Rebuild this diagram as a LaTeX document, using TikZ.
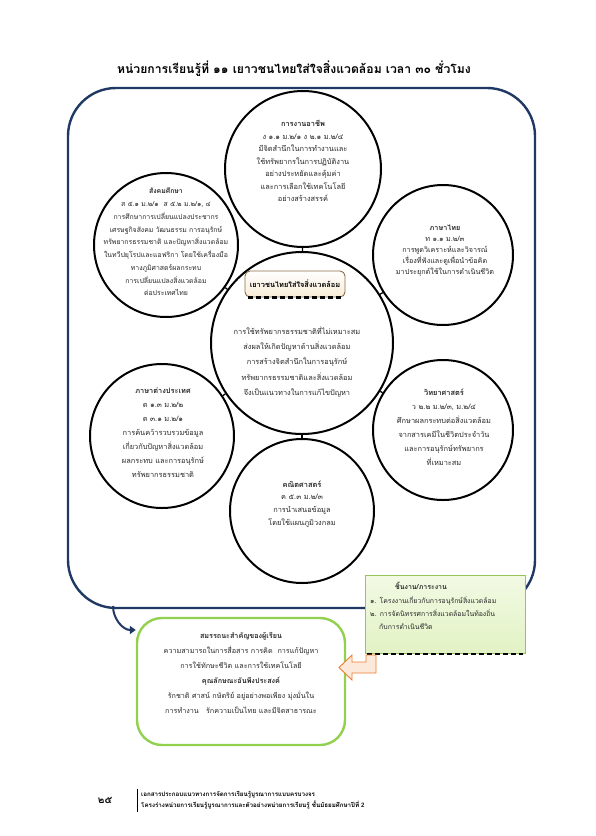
\documentclass[tikz,border=0pt]{standalone}
\usepackage{fontspec}
\newfontfamily\thai[Script=Thai]{Loma}
\usetikzlibrary{arrows.meta}
\definecolor{navy}{RGB}{31,56,100}
\definecolor{lgreen}{RGB}{146,208,80}
\definecolor{boxgreen}{RGB}{226,242,196}
\definecolor{boxgreent}{RGB}{242,250,228}
\definecolor{boxgreenb}{RGB}{150,195,90}
\definecolor{orangeb}{RGB}{237,125,49}
\definecolor{orangef}{RGB}{253,233,217}
\definecolor{beige}{RGB}{248,236,214}
\definecolor{brownb}{RGB}{140,110,70}
\definecolor{txt}{RGB}{40,40,40}
\tikzset{
  ring/.style={circle, draw=black, line width=2pt, fill=white, inner sep=0pt},
  ctext/.style={align=center, inner sep=0pt, text=txt, font=\thai\fontsize{7.4}{12.5}\selectfont},
  link/.style={draw=black, line width=1.3pt},
  para/.style={align=center, inner sep=0pt, text=txt, font=\thai\fontsize{7.4}{15.3}\selectfont},
  btext/.style={align=center, inner sep=0pt, text=txt, font=\thai\fontsize{7.2}{15}\selectfont},
}
\begin{document}
\begin{tikzpicture}[x=1pt,y=-1pt]
\useasboundingbox (0,0) rectangle (595,836);
\fill[white] (0,0) rectangle (595,836);
% title
\node[font=\thai\bfseries\fontsize{12.2}{14}\selectfont, inner sep=0] (title) at (294,69)
  {หน่วยการเรียนรู้ที่ ๑๑ เยาวชนไทยใส่ใจสิ่งแวดล้อม เวลา ๓๐ ชั่วโมง};
% frame
\draw[navy, line width=2.4pt, rounded corners=48pt] (68,88) rectangle (535,608);
% circles
\node[ring, minimum size=182pt] (center) at (302,343) {};
\node[ring, minimum size=156pt] (top) at (303,169) {};
\node[ring, minimum size=144pt] (left) at (166,245) {};
\node[ring, minimum size=140pt] (right) at (443,255) {};
\node[ring, minimum size=144pt] (lowleft) at (162,436) {};
\node[ring, minimum size=140pt] (lowright) at (443,430) {};
\node[ring, minimum size=144pt] (bottom) at (302,511) {};
\foreach \c in {top,left,right,lowleft,lowright,bottom} \draw[link] (center) -- (\c);
% circle texts
\node[ctext] (ttop) at (303,161)
  {\textbf{การงานอาชีพ}\\ง ๑.๑ ม.๒/๑ ง ๒.๑ ม.๒/๔\\มีจิตสำนึกในการทำงานและ\\ใช้ทรัพยากรในการปฏิบัติงาน\\อย่างประหยัดและคุ้มค่า\\และการเลือกใช้เทคโนโลยี\\อย่างสร้างสรรค์};
\node[ctext, font=\thai\fontsize{6.9}{12.75}\selectfont] (tleft) at (166,242)
  {\textbf{สังคมศึกษา}\\ส ๕.๑ ม.๒/๑ \ ส ๕.๒ ม.๒/๑, ๔\\การศึกษาการเปลี่ยนแปลงประชากร\\เศรษฐกิจสังคม วัฒนธรรม การอนุรักษ์\\ทรัพยากรธรรมชาติ และปัญหาสิ่งแวดล้อม\\ในทวีปยุโรปและแอฟริกา โดยใช้เครื่องมือ\\ทางภูมิศาสตร์ผลกระทบ\\การเปลี่ยนแปลงสิ่งแวดล้อม\\ต่อประเทศไทย};
\node[ctext, font=\thai\fontsize{7.2}{11}\selectfont] (tright) at (445,251)
  {\textbf{ภาษาไทย}\\ท ๑.๑ ม.๒/๓\\การพูดวิเคราะห์และวิจารณ์\\เรื่องที่ฟังและดูเพื่อนำข้อคิด\\มาประยุกต์ใช้ในการดำเนินชีวิต};
\node[ctext, font=\thai\fontsize{7.4}{14}\selectfont] (tlowleft) at (163,433)
  {\textbf{ภาษาต่างประเทศ}\\ต ๑.๓ ม.๒/๒\\ต ๓.๑ ม.๒/๑\\การค้นคว้ารวบรวมข้อมูล\\เกี่ยวกับปัญหาสิ่งแวดล้อม\\ผลกระทบ และการอนุรักษ์\\ทรัพยากรธรรมชาติ};
\node[ctext, font=\thai\fontsize{7.4}{14}\selectfont] (tlowright) at (444,427)
  {\textbf{วิทยาศาสตร์}\\ว ๒.๒ ม.๒/๓, ม.๒/๔\\ศึกษาผลกระทบต่อสิ่งแวดล้อม\\จากสารเคมีในชีวิตประจำวัน\\และการอนุรักษ์ทรัพยากร\\ที่เหมาะสม};
\node[ctext, font=\thai\fontsize{7.4}{12.7}\selectfont] (tbottom) at (302,504)
  {\textbf{คณิตศาสตร์}\\ค ๕.๓ ม.๒/๓\\การนำเสนอข้อมูล\\โดยใช้แผนภูมิวงกลม};
% center title box
\node[draw=brownb, line width=0.9pt, rounded corners=5pt, top color=white, bottom color=beige,
  minimum width=100pt, minimum height=26pt, inner sep=0pt,
  font=\thai\bfseries\fontsize{7.4}{9}\selectfont] (theme) at (295,284) {เยาวชนไทยใส่ใจสิ่งแวดล้อม};
\draw[black, line width=2.2pt, dash pattern=on 5pt off 3pt] ([xshift=3pt]theme.south west) -- ([xshift=-3pt]theme.south east);
\node[para] (cpara) at (297,362)
  {การใช้ทรัพยากรธรรมชาติที่ไม่เหมาะสม\\ส่งผลให้เกิดปัญหาด้านสิ่งแวดล้อม\\การสร้างจิตสำนึกในการอนุรักษ์\\ทรัพยากรธรรมชาติและสิ่งแวดล้อม\\จึงเป็นแนวทางในการแก้ไขปัญหา};
% work box
\node[draw=boxgreenb, line width=0.7pt, top color=boxgreent, bottom color=boxgreen,
  minimum width=160pt, minimum height=78pt, inner sep=0pt] (work) at (445,614) {};
\draw[black, line width=2.2pt, dash pattern=on 5pt off 3pt] ([xshift=2pt,yshift=-1pt]work.south west) -- ([xshift=-2pt,yshift=-1pt]work.south east);
\node[font=\thai\bfseries\fontsize{7}{9}\selectfont, text=txt, inner sep=0] (worktitle) at (421,586) {ชิ้นงาน/ภาระงาน};
\node[anchor=west, font=\thai\fontsize{6.9}{13}\selectfont, text=txt, align=left, inner sep=0] (worklist) at (370,613)
  {๑. โครงงานเกี่ยวกับการอนุรักษ์สิ่งแวดล้อม\\๒. การจัดนิทรรศการสิ่งแวดล้อมในท้องถิ่น\\\hspace*{9pt}กับการดำเนินชีวิต};
% competency box
\node[draw=lgreen, line width=2.4pt, rounded corners=25pt, fill=white,
  minimum width=208pt, minimum height=127pt, inner sep=0pt] (comp) at (241,681.5) {};
\node[btext] (comptext) at (241,673)
  {\textbf{สมรรถนะสำคัญของผู้เรียน}\\ความสามารถในการสื่อสาร การคิด \ การแก้ปัญหา\\การใช้ทักษะชีวิต และการใช้เทคโนโลยี\\\textbf{คุณลักษณะอันพึงประสงค์}\\รักชาติ ศาสน์ กษัตริย์ อยู่อย่างพอเพียง มุ่งมั่นใน\\การทำงาน \ \ รักความเป็นไทย และมีจิตสาธารณะ};
% arrows
\coordinate (navystart) at (113,606);
\draw[navy, line width=2pt, -{Triangle[length=6pt,width=8pt]}] (navystart) to[out=-90,in=180] (comp.west |- 0,630);
\draw[orangeb, line width=0.9pt, fill=orangef]
  (376,655) -- (376,673) -- (352,673) -- (352,680) -- (339,667.5) -- (352,655) -- (352,662) -- (366,662) -- (366,655) -- cycle;
% footer
\node[font=\thai\bfseries\fontsize{10}{12}\selectfont, inner sep=0] (pageno) at (105,800) {๒๕};
\draw[line width=0.8pt] (137,789) -- (137,812);
\node[anchor=west, align=left, inner sep=0, font=\thai\bfseries\fontsize{6.2}{11}\selectfont] (foot) at (141,800.5)
  {เอกสารประกอบแนวทางการจัดการเรียนรู้บูรณาการแบบครบวงจร\\โครงร่างหน่วยการเรียนรู้บูรณาการและตัวอย่างหน่วยการเรียนรู้ ชั้นมัธยมศึกษาปีที่ 2};
\end{tikzpicture}
\end{document}
